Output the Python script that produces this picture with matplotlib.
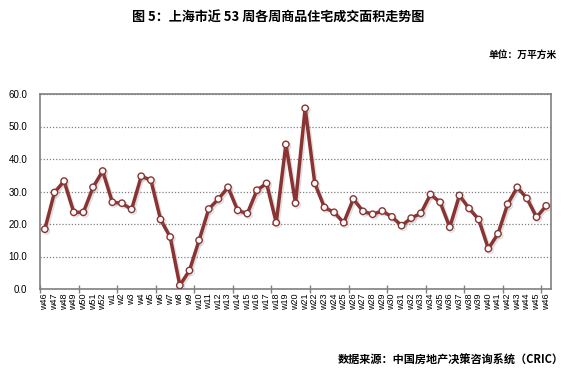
import matplotlib
matplotlib.use("Agg")
import matplotlib.pyplot as plt
import matplotlib.patheffects as pe

plt.rcParams['font.family'] = ['Liberation Sans', 'Noto Sans CJK SC', 'DejaVu Sans']

weeks = ["w46", "w47", "w48", "w49", "w50", "w51", "w52"] + ["w%d" % i for i in range(1, 47)]
values = [18.4, 29.7, 33.2, 23.6, 23.6, 31.3, 36.3, 26.7, 26.4, 24.5,
          34.7, 33.5, 21.4, 16.0, 1.1, 5.7, 15.0, 24.6, 27.7, 31.3,
          24.2, 23.2, 30.4, 32.5, 20.4, 44.5, 26.4, 55.6, 32.5, 25.1,
          23.6, 20.4, 27.7, 23.9, 23.0, 24.0, 22.2, 19.5, 21.8, 23.3,
          29.1, 26.7, 19.0, 28.8, 24.8, 21.4, 12.4, 17.0, 26.1, 31.3,
          27.9, 22.1, 25.6]
yticks = [0, 10, 20, 30, 40, 50, 60]

title = "图 5：上海市近 53 周各周商品住宅成交面积走势图"
unit = "单位：万平方米"
source = "数据来源：中国房地产决策咨询系统（CRIC）"

fig = plt.figure(figsize=(5.72, 3.75), dpi=100)
ax = fig.add_axes([40/572, 1-289/375, 511/572, 195/375])

x = list(range(len(values)))
ax.plot(x, values, color="#8B3333", lw=2.5, marker='o', markersize=4.6,
        markerfacecolor='white', markeredgecolor='#8B3333', markeredgewidth=1.0,
        path_effects=[pe.SimpleLineShadow(offset=(1.2, -1.2), alpha=0.25, shadow_color='gray'), pe.Normal()],
        zorder=3)

ax.set_xlim(-0.5, len(values) - 0.5)
ax.set_ylim(0, 60)
ax.set_yticks(yticks)
ax.set_yticklabels(["%.1f" % v for v in yticks], fontsize=7)
ax.tick_params(axis='y', length=0, pad=9)
ax.yaxis.grid(True, linestyle=(0, (1, 1.5)), color='#808080', lw=0.9)
ax.set_axisbelow(True)

ax.set_xticks(x)
ax.set_xticklabels(weeks, rotation=90, fontsize=6.5)
ax.tick_params(axis='x', which='major', length=0, pad=3)
ax.set_xticks([-0.5 + 4 * k for k in range(14)], minor=True)
ax.tick_params(axis='x', which='minor', length=6, direction='inout', color='#808080', width=1)

for s in ax.spines.values():
    s.set_color('#808080')
    s.set_linewidth(1.2)

fig.text(278/572, 1 - 18/375, title, ha='center', va='center', fontsize=9.4,
         fontweight='bold', family=['Noto Sans CJK SC', 'DejaVu Sans'])
fig.text(557/572, 1 - 55/375, unit, ha='right', va='center', fontsize=7,
         fontweight='bold', family=['Noto Sans CJK SC', 'DejaVu Sans'])
fig.text(564/572, 1 - 360/375, source, ha='right', va='center', fontsize=8,
         fontweight='bold', family=['Noto Sans CJK SC', 'DejaVu Sans'])

fig.savefig("out.png", dpi=100)
